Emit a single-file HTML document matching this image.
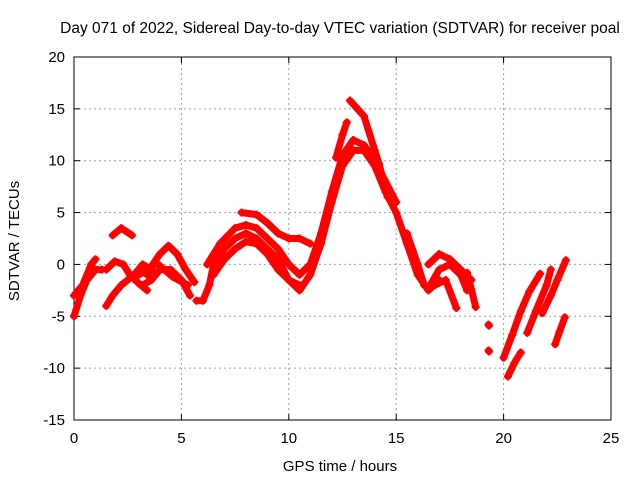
<!DOCTYPE html>
<html><head><meta charset="utf-8"><style>
html,body{margin:0;padding:0;background:#fff;}
svg{display:block;font-family:"Liberation Sans",sans-serif;}
</style></head><body>
<svg id="chart" width="640" height="480">
<rect width="640" height="480" fill="#fff"/>
<text x="340" y="33" font-size="15.5" text-anchor="middle">Day 071 of 2022, Sidereal Day-to-day VTEC variation (SDTVAR) for receiver poal</text>
<g id="grid"></g><g id="axes"></g><g id="marks"></g>
<text x="340" y="471" font-size="15" text-anchor="middle">GPS time / hours</text>
<text transform="translate(19,241) rotate(-90)" font-size="15" text-anchor="middle">SDTVAR / TECUs</text>
</svg>
<script>
const xTicks=[0,5,10,15,20,25];
const yTicks=[-15,-10,-5,0,5,10,15,20];
const tracks=[
[[0,-5],[0.3,-3],[0.6,-1.5],[1,-0.5],[1.3,-0.5]],
[[0,-3],[0.4,-2],[0.8,0],[1,0.5]],
[[1.5,-4],[1.8,-3],[2.2,-2],[2.8,-1],[3.2,0],[3.6,-0.5]],
[[1.5,-0.5],[1.9,0.3],[2.3,0],[2.6,-1],[3,-1.8],[3.4,-2.5]],
[[1.8,2.8],[2.2,3.5],[2.7,2.8]],
[[3,-1],[3.5,-0.5],[4,1],[4.4,1.8],[4.8,1],[5.2,-0.5],[5.6,-1.7]],
[[3.2,-2],[3.6,-1.5],[4,-0.5],[4.5,-0.5],[5,-1.5],[5.4,-3]],
[[3.4,-1],[3.8,0.2],[4.2,-0.5],[4.6,-1.2],[5.3,-2]],
[[5.7,-3.5],[6,-3.5],[6.3,-2],[6.5,0],[7,1.5],[7.5,2.5],[8,3],[8.5,2.5],[9,1.5],[9.5,0.5],[10,-1.5],[10.5,-2.5],[11,-1],[11.5,2],[12,6],[12.5,9.5],[13,11],[13.5,11],[14,9.5],[14.5,7],[15,5],[15.5,2],[16,-1],[16.5,-2.5],[17,-1.5]],
[[6.2,0],[6.8,2],[7.5,3.5],[8,3.8],[8.5,3.5],[9,2.5],[9.5,1.5],[10,0],[10.5,-1],[11,0],[11.5,3],[12,7],[12.5,10.5],[13,12],[13.5,11.5],[14,10],[14.5,8],[15,6]],
[[6.5,-1],[7,0.5],[7.5,1.5],[8,2.2],[8.5,2],[9,1],[9.5,-0.5],[10,-1.5],[10.5,-2]],
[[7.8,5],[8.5,4.8],[9,4],[9.5,3],[10,2.5],[10.5,2.5],[11,2]],
[[12.2,10.3],[12.5,12.5],[12.7,13.7]],
[[12.85,15.8],[13.5,14.3],[14,11],[14.2,9.7],[14.6,6.5]],
[[15.5,3],[16,0],[16.3,-2],[16.5,-2.3],[17,-0.5],[17.5,0],[18,-1],[18.3,-2.5]],
[[16.5,0],[17,1],[17.5,0.5],[18,-0.5],[18.5,-1.5]],
[[16.8,-2],[17.3,-1.5],[17.8,-4.2]],
[[18.3,-0.8],[18.5,-2.4],[18.7,-4.1]],
[[19.3,-5.8],[19.32,-5.9]],
[[19.3,-8.3],[19.32,-8.4]],
[[20,-9],[20.4,-6.8],[20.8,-4.5],[21.2,-2.6],[21.7,-0.9]],
[[20.2,-10.8],[20.5,-9.5],[20.8,-8.5]],
[[21.1,-6.6],[21.5,-4.5],[22,-2],[22.2,-0.5]],
[[21.8,-4.7],[22.2,-3],[22.5,-1.5],[22.9,0.4]],
[[22.4,-7.7],[22.6,-6.5],[22.85,-5.1]]
];
const NS="http://www.w3.org/2000/svg";
const X0=74,X1=611,Y0=420,Y1=57;
function sx(v){return X0+(v-0)/25*(X1-X0);}
function sy(v){return Y0-(v+15)/35*(Y0-Y1);}
function mk(t,a,p){const e=document.createElementNS(NS,t);for(const k in a)e.setAttribute(k,a[k]);p.appendChild(e);return e;}
const grid=document.getElementById('grid'),axes=document.getElementById('axes'),marks=document.getElementById('marks');
xTicks.forEach(v=>{const x=sx(v);
 if(v>0&&v<25){const l=mk('line',{x1:x,y1:Y0,x2:x,y2:Y1,stroke:'#a0a0a0','stroke-dasharray':'2,3'},grid);
 
 }
 mk('line',{x1:x,y1:Y0,x2:x,y2:Y0-6,stroke:'#000'},axes);
 mk('line',{x1:x,y1:Y1,x2:x,y2:Y1+6,stroke:'#000'},axes);
 const t=mk('text',{x:x,y:Y0+23,'font-size':15,'text-anchor':'middle'},axes);t.textContent=v;
 
 
});
yTicks.forEach(v=>{const y=sy(v);
 if(v>-15&&v<20){const l=mk('line',{x1:X0,y1:y,x2:X1,y2:y,stroke:'#a0a0a0','stroke-dasharray':'2,3'},grid);
 
 }
 mk('line',{x1:X0,y1:y,x2:X0+6,y2:y,stroke:'#000'},axes);
 mk('line',{x1:X1,y1:y,x2:X1-6,y2:y,stroke:'#000'},axes);
 const t=mk('text',{x:X0-9,y:y+5,'font-size':15,'text-anchor':'end'},axes);t.textContent=v;
 
 
});
const b=mk('rect',{x:X0,y:Y1,width:X1-X0,height:Y0-Y1,fill:'none',stroke:'#000'},axes);


tracks.forEach(tr=>{
 const pts=tr.map(p=>sx(p[0])+','+sy(p[1])).join(' ');
 const pl=mk('polyline',{points:pts,fill:'none',stroke:'#ff0000','stroke-width':7,'stroke-linejoin':'round','stroke-linecap':'round'},marks);
 
 
 tr.forEach(p=>{const x=sx(p[0]),y=sy(p[1]);
  const m=mk('path',{d:`M${x-4},${y}h8M${x},${y-4}v8`,stroke:'#ff0000','stroke-width':2},marks);
  
  
 });
});
</script>
</body></html>
